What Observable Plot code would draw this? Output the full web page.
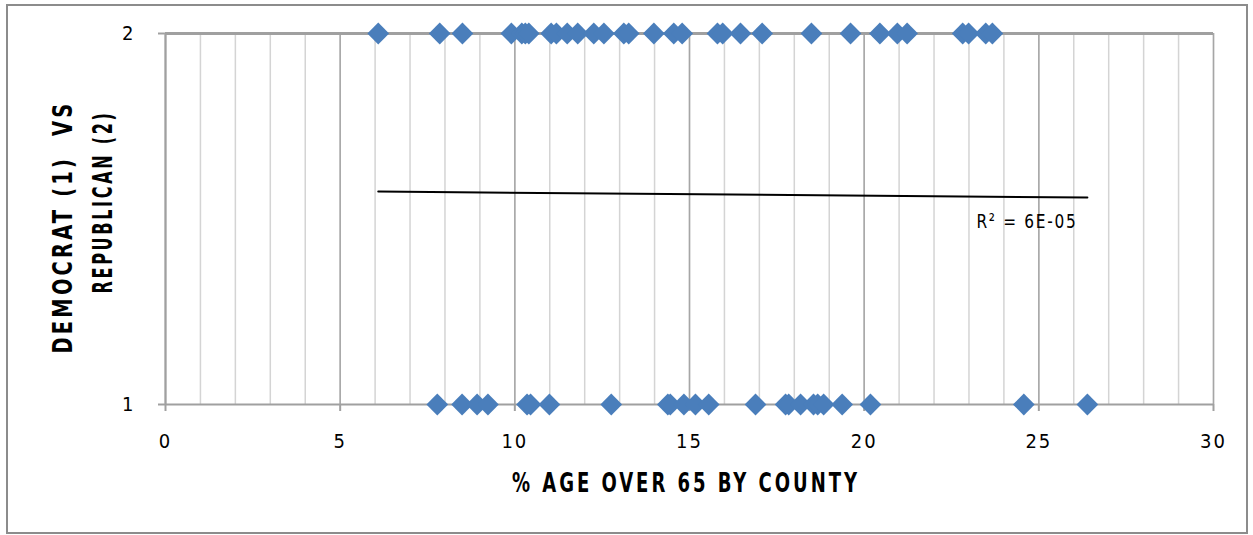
<!DOCTYPE html>
<html>
<head>
<meta charset="utf-8">
<script src="https://cdn.jsdelivr.net/npm/d3@7"></script>
<script src="https://cdn.jsdelivr.net/npm/@observablehq/plot@0.6"></script>
<style>
  html, body { margin: 0; padding: 0; background: #fff; }
  #chart svg text { letter-spacing: 2px; }
</style>
</head>
<body>
<div id="chart"></div>
<script>
// Republican counties (y = 2): % age over 65
const republicanX = [6.09, 7.85, 8.50, 9.90, 10.20, 10.30, 10.40, 11.04, 11.19, 11.50,
  11.80, 12.26, 12.55, 13.12, 13.26, 13.98, 14.55, 14.79, 15.80, 15.95,
  16.46, 17.08, 18.49, 19.61, 20.45, 20.95, 21.23, 22.82, 22.99, 23.48, 23.67];
// Democrat counties (y = 1)
const democratX = [7.78, 8.49, 8.92, 9.23, 10.35, 10.45, 10.99, 12.76, 14.38, 14.45,
  14.84, 15.17, 15.55, 16.89, 17.75, 17.84, 18.18, 18.55, 18.67, 18.84,
  19.37, 20.18, 24.57, 26.39];
// Linear trendline
const trendX = [6.09, 26.39];
const trendY = [1.574, 1.558];
const r2Text = "R² = 6E-05";
const xTicks = [0, 5, 10, 15, 20, 25, 30];
const xMinor = d3.range(0, 31);
const yTicks = [1, 2];
const xTitle = "% AGE OVER 65 BY COUNTY";
const yTitleLines = ["DEMOCRAT (1)  VS", "REPUBLICAN (2)"];

const points = [
  ...republicanX.map(x => ({x, y: 2})),
  ...democratX.map(x => ({x, y: 1}))
];
const trend = trendX.map((x, i) => ({x, y: trendY[i]}));
const trendEnd = [trend[trend.length - 1]];

const font = "'Liberation Sans Narrow', 'DejaVu Sans Condensed', 'Open Sans', sans-serif";

const plot = Plot.plot({
  width: 1253,
  height: 535,
  marginLeft: 165,
  marginRight: 40,
  marginTop: 33,
  marginBottom: 131,
  style: {fontFamily: font, fontSize: "20px", color: "#000", background: "#fff"},
  x: {domain: [0, 30], ticks: xTicks, tickSize: 7, tickPadding: 22, label: null, tickFormat: "d"},
  y: {domain: [1, 2], ticks: yTicks, tickSize: 7, tickPadding: 23, label: null, tickFormat: "d"},
  marks: [
    Plot.ruleX(xMinor, {stroke: "#d4d4d4", strokeWidth: 1.5}),
    Plot.ruleX(xTicks, {stroke: "#a6a6a6", strokeWidth: 1.5}),
    Plot.ruleY([2], {stroke: "#a0a0a0", strokeWidth: 3}),
    Plot.ruleY([1], {stroke: "#a0a0a0", strokeWidth: 2}),
    Plot.ruleX([0], {stroke: "#a0a0a0", strokeWidth: 2}),
    Plot.line(trend, {x: "x", y: "y", stroke: "#000", strokeWidth: 2}),
    Plot.dot(points, {x: "x", y: "y", symbol: "diamond2", r: 9.8, fill: "#4a7ebb", stroke: "none"}),
    Plot.text(trendEnd, {x: "x", y: "y", text: () => r2Text, textAnchor: "end", dx: -10, dy: 24,
      fontSize: 20, fill: "#000"})
  ]
});

const svg = d3.select(plot);
// gray tick marks
svg.selectAll('[aria-label="x-axis tick"] path, [aria-label="y-axis tick"] path, [aria-label="x-axis tick"], [aria-label="y-axis tick"]')
  .attr("stroke", "#a0a0a0").attr("stroke-width", 2);

// narrow the R² label
svg.selectAll('[aria-label="text"] text')
  .attr("textLength", 101).attr("lengthAdjust", "spacingAndGlyphs");

// outer chart border
svg.append("rect")
  .attr("x", 7).attr("y", 5).attr("width", 1240).attr("height", 528)
  .attr("fill", "none").attr("stroke", "#8c8c8c").attr("stroke-width", 2);

// x title
svg.append("text")
  .attr("x", 686).attr("y", 492)
  .attr("text-anchor", "middle")
  .attr("font-family", font).attr("font-weight", "bold").attr("font-size", 27)
  .attr("textLength", 348).attr("lengthAdjust", "spacingAndGlyphs")
  .style("letter-spacing", "4px")
  .text(xTitle);

// y title (two rotated lines)
const yLineX = [72, 112];
const yLineCY = [227, 202];
const yLineLen = [253, 183];
yTitleLines.forEach((t, i) => {
  svg.append("text")
    .attr("transform", `translate(${yLineX[i]},${yLineCY[i]}) rotate(-90)`)
    .attr("text-anchor", "middle")
    .attr("font-family", font).attr("font-weight", "bold").attr("font-size", 27)
    .attr("textLength", yLineLen[i]).attr("lengthAdjust", "spacingAndGlyphs")
    .style("letter-spacing", "4px")
    .text(t);
});

document.getElementById("chart").append(plot);
</script>
</body>
</html>
